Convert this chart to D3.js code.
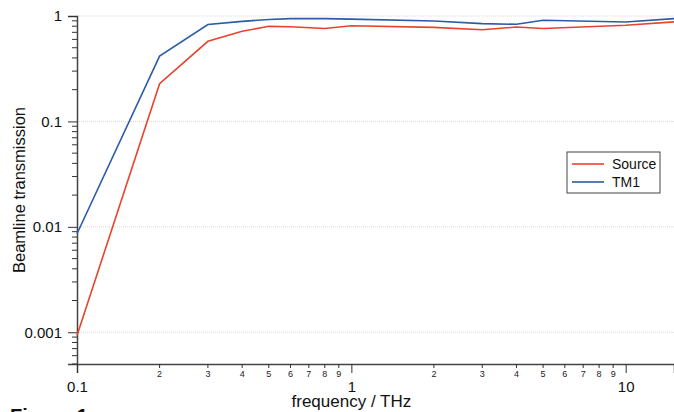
<!DOCTYPE html>
<html>
<head>
<meta charset="utf-8">
<script src="https://cdn.jsdelivr.net/npm/d3@7"></script>
<style>
  body { margin: 0; background: #fff; }
  svg { display: block; font-family: "Liberation Sans", Arial, sans-serif; }
</style>
</head>
<body>
<div id="chart"></div>
<script>
// data
const freq = [0.1, 0.2, 0.3, 0.4, 0.5, 0.6, 0.8, 1, 2, 3, 4, 5, 10, 15];
const source = [0.00093, 0.228, 0.575, 0.716, 0.798, 0.79, 0.76, 0.807, 0.78, 0.74, 0.786, 0.76, 0.816, 0.88];
const tm1 = [0.0086, 0.417, 0.83, 0.89, 0.925, 0.945, 0.945, 0.935, 0.897, 0.847, 0.834, 0.91, 0.877, 0.945];
const seriesNames = ["Source", "TM1"];
const yMajor = [1, 0.1, 0.01, 0.001];
const yMajorLabels = ["1", "0.1", "0.01", "0.001"];
const xMajor = [0.1, 1, 10];
const xMajorLabels = ["0.1", "1", "10"];

// set dimensions
const width = 674,
    height = 412,
    margin = { top: 16, right: 0, bottom: 48, left: 77 };

const colors = ["#e8432d", "#2b5ca6"];

const svg = d3.select("#chart")
    .append("svg")
    .attr("width", width)
    .attr("height", height);

const x = d3.scaleLog()
    .domain([0.1, 15])
    .range([margin.left, width - margin.right]);

const y = d3.scaleLog()
    .domain([0.0005, 1])
    .range([height - margin.bottom, margin.top]);

// horizontal grid
svg.append("g")
    .selectAll("line")
    .data(yMajor)
    .enter()
    .append("line")
    .attr("x1", margin.left)
    .attr("x2", width)
    .attr("y1", d => y(d))
    .attr("y2", d => y(d))
    .attr("stroke", "#d8d8d8")
    .attr("stroke-width", 1)
    .attr("stroke-dasharray", "1,1");

// minor tick values
const yMinor = [];
[0.0001, 0.001, 0.01, 0.1].forEach(b => {
    for (let k = 2; k <= 9; k++) {
        const v = b * k;
        if (v >= 0.0005 && v < 1) yMinor.push(v);
    }
});
const xMinor = [];
[0.1, 1, 10].forEach(b => {
    for (let k = 2; k <= 9; k++) {
        const v = b * k;
        if (v <= 15) xMinor.push(v);
    }
});

// y axis
const yAxis = svg.append("g")
    .attr("transform", `translate(${margin.left},0)`);
yAxis.call(d3.axisLeft(y)
        .tickValues(yMajor)
        .tickSize(9)
        .tickPadding(6)
        .tickFormat((d, i) => yMajorLabels[i]))
    .call(g => g.selectAll("text").attr("font-size", 15).attr("fill", "#111"));
yAxis.selectAll(".minor")
    .data(yMinor)
    .enter()
    .append("line")
    .attr("class", "minor")
    .attr("x1", -5)
    .attr("x2", 0)
    .attr("y1", d => y(d))
    .attr("y2", d => y(d))
    .attr("stroke", "#333");
yAxis.select(".domain").attr("stroke", "#444").attr("stroke-width", 1.5);
yAxis.selectAll(".tick line").attr("stroke", "#333");

// x axis
const xAxis = svg.append("g")
    .attr("transform", `translate(0,${height - margin.bottom})`);
xAxis.call(d3.axisBottom(x)
        .tickValues(xMajor)
        .tickSize(9)
        .tickPadding(8)
        .tickFormat((d, i) => xMajorLabels[i]))
    .call(g => g.selectAll("text").attr("font-size", 15).attr("fill", "#111"));
const xm = xAxis.selectAll(".minor")
    .data(xMinor)
    .enter()
    .append("g")
    .attr("class", "minor")
    .attr("transform", d => `translate(${x(d)},0)`);
xm.append("line")
    .attr("y1", 0)
    .attr("y2", 4)
    .attr("stroke", "#333");
xm.append("text")
    .attr("y", 13)
    .attr("text-anchor", "middle")
    .attr("font-size", 9)
    .attr("fill", "#222")
    .text(d => Math.round(d / Math.pow(10, Math.floor(Math.log10(d) + 1e-9))));
xAxis.select(".domain").attr("stroke", "#444").attr("stroke-width", 1.5);
xAxis.selectAll(".tick line").attr("stroke", "#333");

// lines
const line = d3.line()
    .x(d => x(d[0]))
    .y(d => y(d[1]));

[source, tm1].forEach((vals, i) => {
    svg.append("path")
        .datum(freq.map((f, j) => [f, vals[j]]))
        .attr("fill", "none")
        .attr("stroke", colors[i])
        .attr("stroke-width", 1.6)
        .attr("d", line);
});

// axis titles
svg.append("text")
    .attr("transform", `translate(25,${(margin.top + height - margin.bottom) / 2}) rotate(-90)`)
    .attr("text-anchor", "middle")
    .attr("font-size", 16.5)
    .attr("fill", "#111")
    .text("Beamline transmission");

svg.append("text")
    .attr("x", x(1))
    .attr("y", 407)
    .attr("text-anchor", "middle")
    .attr("font-size", 17)
    .attr("fill", "#111")
    .text("frequency / THz");

// caption, cut off by the bottom edge as in the source image
svg.append("text")
    .attr("x", 10)
    .attr("y", 423)
    .attr("font-size", 20)
    .attr("font-weight", "bold")
    .attr("fill", "#111")
    .text("Figure 1");

// legend
const legend = svg.append("g")
    .attr("transform", "translate(567,152)");
legend.append("rect")
    .attr("width", 93)
    .attr("height", 41)
    .attr("fill", "#fff")
    .attr("stroke", "#444");
seriesNames.forEach((name, i) => {
    const row = legend.append("g")
        .attr("transform", `translate(0,${12 + i * 18})`);
    row.append("line")
        .attr("x1", 5)
        .attr("x2", 37)
        .attr("stroke", colors[i])
        .attr("stroke-width", 1.6);
    row.append("text")
        .attr("x", 45)
        .attr("y", 5)
        .attr("font-size", 14)
        .attr("fill", "#111")
        .text(name);
});
</script>
</body>
</html>
